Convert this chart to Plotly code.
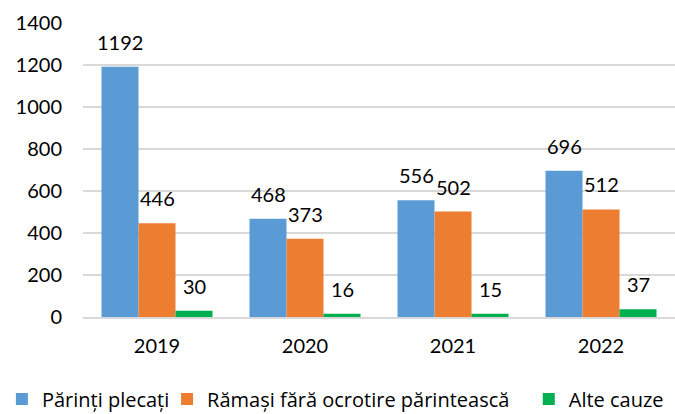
import plotly.graph_objects as go

years = ["2019", "2020", "2021", "2022"]
series_names = ["Părinți plecați", "Rămași fără ocrotire părintească", "Alte cauze"]
parinti_plecati = [1192, 468, 556, 696]
ramasi_fara_ocrotire = [446, 373, 502, 512]
alte_cauze = [30, 16, 15, 37]
colors = ["#5B9BD5", "#ED7D31", "#00B050"]
y_ticks = [0, 200, 400, 600, 800, 1000, 1200, 1400]

FONT = "Lato, 'Open Sans', sans-serif"
LEGEND_FONT = "'Open Sans', Lato, sans-serif"

all_series = [parinti_plecati, ramasi_fara_ocrotire, alte_cauze]
legend_ids = ["legend", "legend2", "legend3"]
legend_x = [-0.137, 0.142, 0.753]

fig = go.Figure()
for name, vals, col, lg in zip(series_names, all_series, colors, legend_ids):
    fig.add_trace(go.Bar(
        x=years,
        y=vals,
        name=name,
        legend=lg,
        marker=dict(color=col, line=dict(width=0)),
    ))

# value labels sit a bit above each bar, Excel style
# (annotation x given as category index so "2019" is not read as a number)
bar_px = 37
for k, vals in enumerate(all_series):
    for i, v in enumerate(vals):
        fig.add_annotation(
            x=i, y=v, text=str(v), showarrow=False,
            xshift=(k - 1) * bar_px, yshift=25,
            font=dict(size=20, color="#000000", family=FONT),
        )

leg_common = dict(
    orientation="h",
    xanchor="left",
    yref="container",
    y=0.036,
    yanchor="middle",
    font=dict(size=20, family=LEGEND_FONT, color="#000000"),
    itemwidth=30,
    bgcolor="rgba(0,0,0,0)",
)

fig.update_layout(
    width=675,
    height=414,
    barmode="group",
    bargap=0.25,
    bargroupgap=0,
    showlegend=True,
    plot_bgcolor="white",
    paper_bgcolor="white",
    margin=dict(l=83, r=0, t=23, b=97),
    font=dict(family=FONT, size=20, color="#000000"),
    xaxis=dict(
        type="category",
        range=[-0.5, len(years) - 0.5],
        showgrid=False,
        showline=True,
        linecolor="#d9d9d9",
        linewidth=2,
        ticks="",
        tickfont=dict(size=20),
        ticklabelstandoff=10,
    ),
    yaxis=dict(
        range=[0, 1400],
        tickvals=y_ticks,
        showgrid=True,
        gridcolor="#d9d9d9",
        gridwidth=2,
        zeroline=False,
        showline=False,
        ticks="",
        tickfont=dict(size=20),
        ticklabelstandoff=20,
    ),
    legend=dict(x=legend_x[0], **leg_common),
    legend2=dict(x=legend_x[1], **leg_common),
    legend3=dict(x=legend_x[2], **leg_common),
)

# drop the browser's default body margin so the figure sits at the page corner
fig.write_html(
    "out.html",
    config={"displayModeBar": False},
    post_script="document.body.style.margin='0';",
)
